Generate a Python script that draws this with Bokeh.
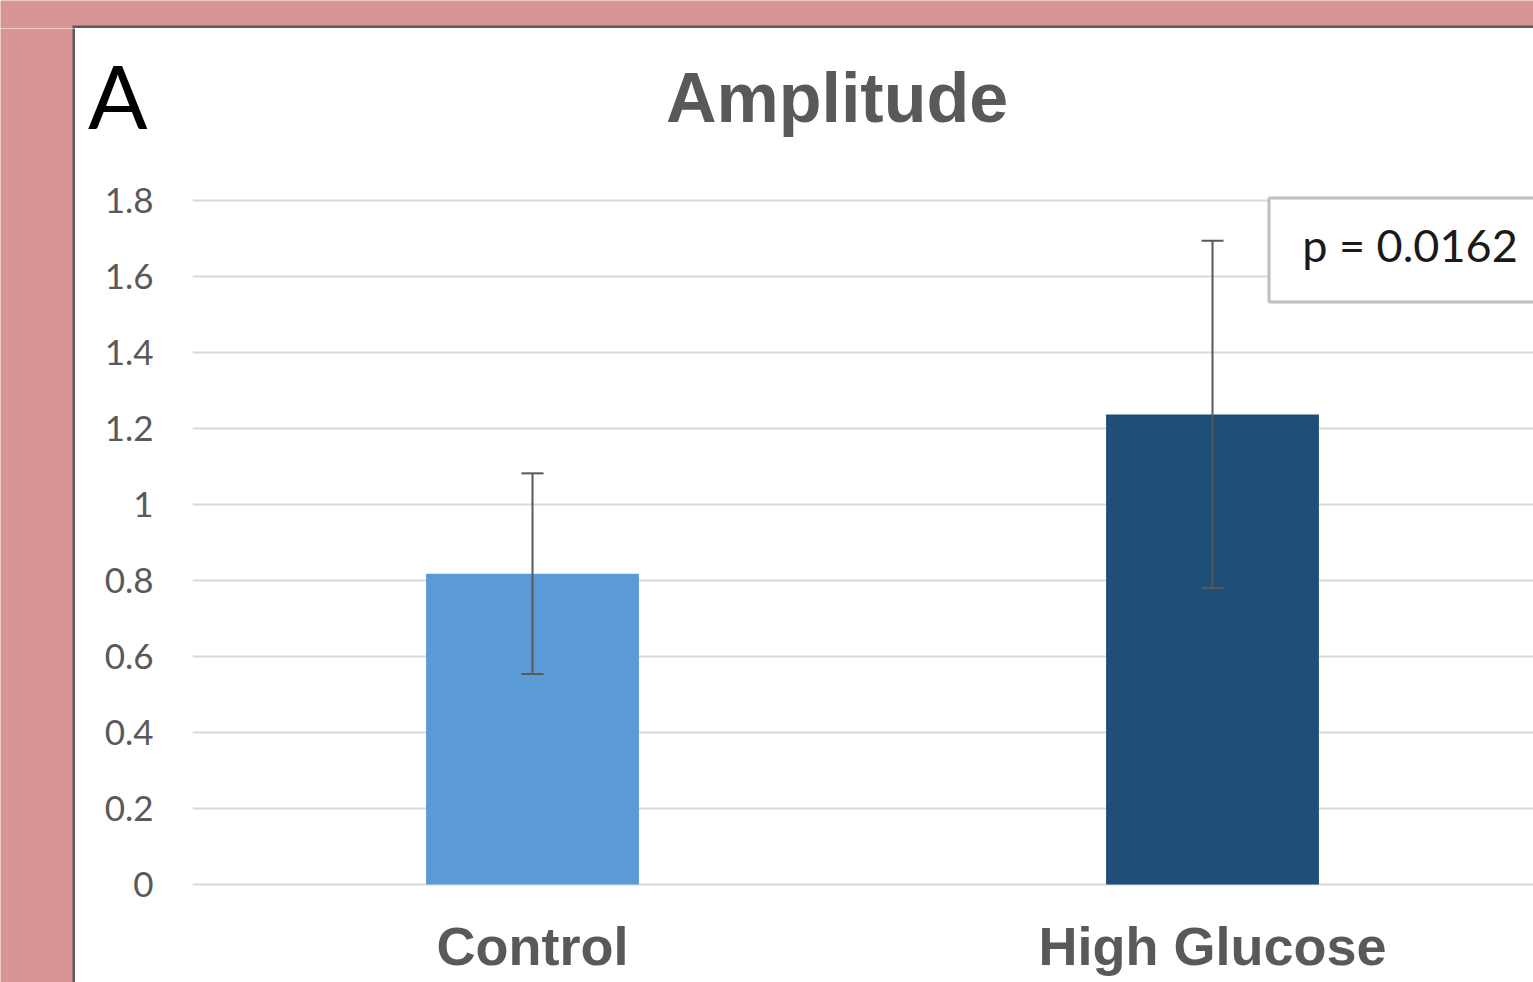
from bokeh.plotting import figure
from bokeh.layouts import column, row
from bokeh.models import (Range1d, FixedTicker, BoxAnnotation, Label, Whisker,
                          ColumnDataSource, TeeHead)
from bokeh.core.properties import value
from bokeh.embed import file_html
from bokeh.resources import INLINE

# ---------------- data ----------------
categories = ["Control", "High Glucose"]
means = [0.818, 1.237]
errors = [0.264, 0.457]
y_ticks = [0, 0.2, 0.4, 0.6, 0.8, 1.0, 1.2, 1.4, 1.6, 1.8]
y_tick_labels = ["0", "0.2", "0.4", "0.6", "0.8", "1", "1.2", "1.4", "1.6", "1.8"]
title_text = "Amplitude"
panel_letter = "A"
p_value_text = "p = 0.0162"

# ---------------- styles ----------------
PINK = "#D99594"
DARK = "#5a5a5a"
GRAY_TEXT = "#595959"
GRID = "#d9d9d9"
bar_colors = ["#5B9BD5", "#1F4E79"]
LEFT_BORDER = 117


def strip(w, h, color):
    f = figure(width=w, height=h, toolbar_location=None, output_backend="svg",
               x_range=Range1d(0, w), y_range=Range1d(h, 0),
               x_axis_type=None, y_axis_type=None, min_border=0,
               title_location=None,
               outline_line_color=None, border_fill_color=color,
               background_fill_color=color)
    f.grid.visible = False
    return f


# ---------------- page frame pieces (pink margin + dark panel edge) ----------------
top_strip = strip(1533, 28, PINK)
top_strip.quad(left=[72], right=[1533], top=[25], bottom=[28],
               fill_color=DARK, line_color=None)
left_strip = strip(75, 954, PINK)
left_strip.quad(left=[72], right=[75], top=[0], bottom=[954],
                fill_color=DARK, line_color=None)

# ---------------- header (title + panel letter) ----------------
head = figure(width=1458, height=140, toolbar_location=None, output_backend="svg",
              x_range=Range1d(192, 1533), y_range=Range1d(168, 28),
              x_axis_type=None, title_location=None,
              min_border_left=LEFT_BORDER, min_border_right=0,
              min_border_top=0, min_border_bottom=0,
              outline_line_color=None, border_fill_color="white",
              background_fill_color="white")
head.grid.visible = False
head.text(x=[836.5], y=[97], text=[title_text],
          text_font=value("Liberation Sans"), text_font_style="bold",
          text_font_size="70px", text_color=GRAY_TEXT,
          text_align="center", text_baseline="alphabetic")
# panel letter shown as the single tick label of the header's left axis
head.yaxis.ticker = FixedTicker(ticks=[94])
head.yaxis.major_label_overrides = {94: panel_letter}
head.yaxis.major_label_text_font = "Lato"
head.yaxis.major_label_text_font_size = "88px"
head.yaxis.major_label_text_color = "black"
head.yaxis.major_label_standoff = 39
head.yaxis.axis_line_color = None
head.yaxis.major_tick_line_color = None
head.yaxis.minor_tick_line_color = None

# ---------------- main chart ----------------
xpos = [i + 0.5 for i in range(len(categories))]
src = ColumnDataSource(dict(
    x=xpos, top=means, color=bar_colors,
    upper=[m + e for m, e in zip(means, errors)],
    lower=[m - e for m, e in zip(means, errors)],
))

p = figure(width=1458, height=814,
           x_range=Range1d(0, 1341 / 680),
           y_range=Range1d(-4 / 380, 1.8 + 6 / 380),
           output_backend="svg", toolbar_location=None, title_location=None,
           min_border_left=LEFT_BORDER, min_border_right=0,
           min_border_top=26, min_border_bottom=94,
           border_fill_color="white", background_fill_color="white",
           outline_line_color=None)

p.vbar(x="x", top="top", width=0.313, source=src, fill_color="color",
       line_color=None)

head_u = TeeHead(size=22, line_color=GRAY_TEXT, line_width=2)
head_l = TeeHead(size=22, line_color=GRAY_TEXT, line_width=2)
wh = Whisker(source=src, base="x", upper="upper", lower="lower",
             line_color=GRAY_TEXT, line_width=2,
             upper_head=head_u, lower_head=head_l, level="annotation")
p.add_layout(wh)

# axes
p.xaxis.ticker = FixedTicker(ticks=xpos)
p.xaxis.major_label_overrides = dict(zip(xpos, categories))
p.xaxis.major_label_text_font = "Liberation Sans"
p.xaxis.major_label_text_font_style = "bold"
p.xaxis.major_label_text_font_size = "54px"
p.xaxis.major_label_text_color = GRAY_TEXT
p.xaxis.major_label_standoff = 21
p.xaxis.axis_line_color = None
p.xaxis.major_tick_line_color = None
p.xaxis.minor_tick_line_color = None

p.yaxis.ticker = FixedTicker(ticks=y_ticks)
p.yaxis.major_label_overrides = dict(zip(y_ticks, y_tick_labels))
p.yaxis.major_label_text_font = "Lato"
p.yaxis.major_label_text_font_size = "35px"
p.yaxis.major_label_text_color = GRAY_TEXT
p.yaxis.major_label_standoff = 33
p.yaxis.axis_line_color = None
p.yaxis.major_tick_line_color = None
p.yaxis.minor_tick_line_color = None

p.xgrid.grid_line_color = None
p.ygrid.ticker = FixedTicker(ticks=y_ticks)
p.ygrid.grid_line_color = GRID
p.ygrid.grid_line_width = 2

# p-value box
pbox = BoxAnnotation(left=1.5831, right=5, top=1.8066, bottom=1.5329,
                     fill_color="white", fill_alpha=1.0,
                     line_color="#BFBFBF", line_width=3, line_alpha=1.0,
                     level="annotation")
p.add_layout(pbox)
p.add_layout(Label(x=1.632, y=1.6816, text=p_value_text,
                   text_font="Lato", text_font_size="45px",
                   text_color="#1a1a1a", text_align="left",
                   text_baseline="middle"))

root = column(top_strip,
              row(left_strip, column(head, p)))

open("out.html", "w").write(file_html(root, INLINE))
